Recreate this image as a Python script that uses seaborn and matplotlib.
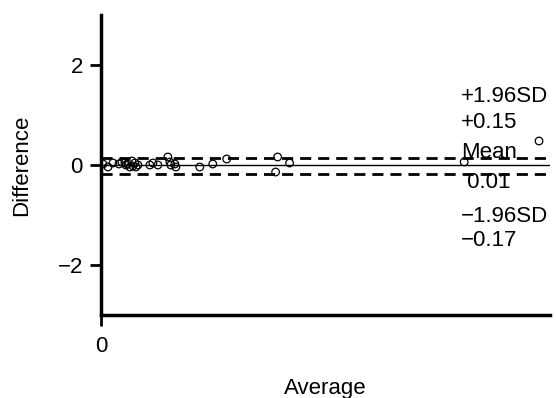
import numpy as np
import matplotlib.pyplot as plt
import seaborn as sns

# Bland-Altman style data
average = [0.04, 0.14, 0.24, 0.36, 0.42, 0.48, 0.50, 0.54, 0.58, 0.62, 0.64, 0.68, 0.70, 0.74,
           0.98, 1.04, 1.14, 1.34, 1.38, 1.40, 1.48, 1.50, 1.98, 2.24, 2.52, 3.50, 3.54, 3.78,
           7.28, 8.78]
difference = [0.02, -0.04, 0.04, 0.02, 0.06, 0.04, 0.00, 0.02, -0.04, 0.08, -0.02, 0.04, -0.04, 0.00,
              0.00, 0.04, 0.00, 0.16, 0.06, 0.00, 0.02, -0.04, -0.04, 0.02, 0.12, -0.14, 0.16, 0.04,
              0.06, 0.48]
mean_diff = 0.01
upper_loa = 0.15
lower_loa = -0.17

sns.set_style('ticks')
plt.rcParams['font.family'] = ['Liberation Sans', 'DejaVu Sans']
plt.rcParams['text.color'] = 'black'
plt.rcParams['axes.labelcolor'] = 'black'

fig = plt.figure(figsize=(5.56, 3.98), dpi=100)
ax = fig.add_axes([101 / 556, 1 - 315 / 398, 449 / 556, 300 / 398])

sns.scatterplot(x=average, y=difference, ax=ax, marker='o', s=30,
                facecolor='none', edgecolor='black', linewidth=0.9, zorder=3)

ax.axhline(mean_diff, color='black', lw=1.0)
ax.axhline(upper_loa, color='black', lw=2.0, ls=(0, (4, 2.5)))
ax.axhline(lower_loa, color='black', lw=2.0, ls=(0, (4, 2.5)))

# labels on the right side
tx = 7.22
fs = 16
ax.text(tx, 1.36, '+1.96SD', fontsize=fs, va='center', ha='left')
ax.text(tx, 0.86, '+%.2f' % upper_loa, fontsize=fs, va='center', ha='left')
ax.text(tx, 0.26, 'Mean', fontsize=fs, va='center', ha='left')
ax.text(tx, -0.36, ' %.2f' % mean_diff, fontsize=fs, va='center', ha='left')
ax.text(tx, -1.02, '\u22121.96SD', fontsize=fs, va='center', ha='left')
ax.text(tx, -1.52, '\u2212%.2f' % abs(lower_loa), fontsize=fs, va='center', ha='left')

ax.set_xlim(0, 9)
ax.set_ylim(-3, 3)
ax.set_xticks([0])
ax.set_yticks([-2, 0, 2])
ax.set_yticklabels(['\u22122', '0', '2'])
ax.tick_params(labelsize=fs, width=2, length=8, color='black', labelcolor='black')
ax.tick_params(axis='x', pad=7)
ax.tick_params(axis='y', pad=5)

ax.set_xlabel('Average', fontsize=fs, labelpad=15)
ax.set_ylabel('Difference', fontsize=fs, labelpad=18)

sns.despine(ax=ax)
for side in ['left', 'bottom']:
    ax.spines[side].set_linewidth(2.5)
    ax.spines[side].set_color('black')

fig.savefig('out.png', dpi=100)
